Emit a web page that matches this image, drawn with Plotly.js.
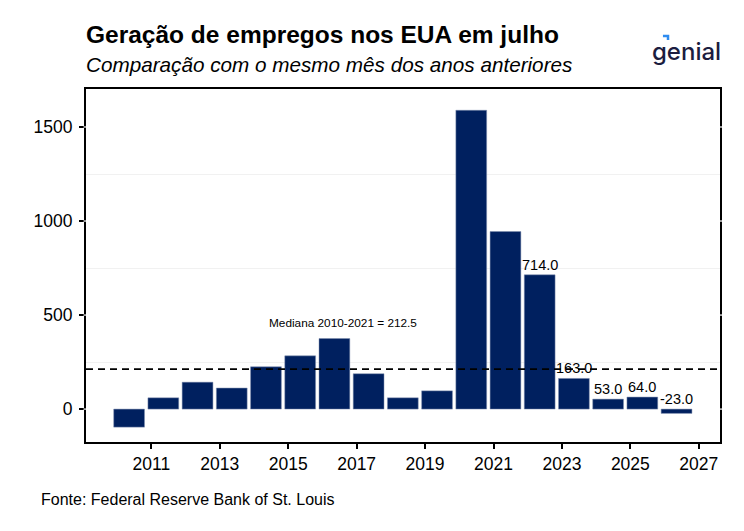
<!DOCTYPE html>
<html>
<head>
<meta charset="utf-8">
<script src="https://cdn.plot.ly/plotly-3.0.1.min.js"></script>
<style>
  body { margin: 0; background: #fff; }
  #chart { width: 744px; height: 531px; }
</style>
</head>
<body>
<div id="chart"></div>
<script>
// julho de cada ano, variação em milhares
var years = [2010, 2011, 2012, 2013, 2014, 2015, 2016, 2017, 2018, 2019, 2020, 2021, 2022, 2023, 2024, 2025, 2026];
var jobs = [-96, 60, 143, 112, 225, 283, 375, 188, 60, 97, 1589, 944, 714, 163, 53, 64, -23];
var labelYears = [2022, 2023, 2024, 2025, 2026];
var tickYears = [2011, 2013, 2015, 2017, 2019, 2021, 2023, 2025, 2027];
var yTicks = [0, 500, 1000, 1500];
var median = 212.5;

var navy = "#00205f";
var font = "Liberation Sans, Arial, sans-serif";

window.onload = function() {
  drawChart();
};

function drawChart() {
  var bars = {
    type: "bar",
    x: years,
    y: jobs,
    width: 0.9,
    marker: { color: navy, line: { color: "#8090b0", width: 0.5 } },
    hoverinfo: "x+y"
  };

  var notes = [];
  // valores em cima das barras recentes
  labelYears.forEach(function(yr) {
    var v = jobs[years.indexOf(yr)];
    notes.push({
      x: yr, y: Math.max(v, 0), xref: "x", yref: "y",
      text: v.toFixed(1), showarrow: false, yanchor: "bottom",
      font: { family: font, size: 14.5, color: "#000" }
    });
  });

  notes.push({
    x: 2016.25, y: 460, xref: "x", yref: "y",
    text: "Mediana 2010-2021 = " + median, showarrow: false,
    font: { family: font, size: 11.8, color: "#000" }
  });

  // titulos, fonte e logo
  notes.push({
    x: -0.003, y: 1.1558, xref: "paper", yref: "paper", xanchor: "left", yanchor: "middle",
    text: "<b>Geração de empregos nos EUA em julho</b>", showarrow: false,
    font: { family: font, size: 24.5, color: "#000" }
  });
  notes.push({
    x: -0.003, y: 1.0694, xref: "paper", yref: "paper", xanchor: "left", yanchor: "middle",
    text: "<i>Comparação com o mesmo mês dos anos anteriores</i>", showarrow: false,
    font: { family: font, size: 20.7, color: "#000" }
  });
  notes.push({
    x: -0.0735, y: -0.162, xref: "paper", yref: "paper", xanchor: "left", yanchor: "middle",
    text: "Fonte: Federal Reserve Bank of St. Louis", showarrow: false,
    font: { family: font, size: 16, color: "#000" }
  });
  notes.push({
    x: 1.004, y: 1.1076, xref: "paper", yref: "paper", xanchor: "right", yanchor: "middle",
    text: "genial", showarrow: false,
    font: { family: "Inter, Lato, sans-serif", size: 24, color: "#1b1d3f", weight: 500 }
  });

  var shapes = [
    {
      type: "line", xref: "paper", x0: 0, x1: 1, yref: "y", y0: median, y1: median,
      line: { color: "#000", width: 1.8, dash: "7px,5px" }
    },
    // detalhe azul do logo
    {
      type: "path", xref: "paper", yref: "paper",
      path: "M 0.910 1.150 L 0.918 1.150 L 0.918 1.139",
      line: { color: "#2f8cf0", width: 2.5 }
    }
  ];
  // grade branca cortando a moldura
  yTicks.forEach(function(v) {
    [[-0.004, 0.001], [0.999, 1.004]].forEach(function(p) {
      shapes.push({
        type: "line", xref: "paper", x0: p[0], x1: p[1], yref: "y", y0: v, y1: v,
        layer: "above", line: { color: "#fff", width: 1.2 }
      });
    });
  });

  var layout = {
    width: 744,
    height: 531,
    margin: { l: 86, r: 24, t: 89, b: 89 },
    paper_bgcolor: "#fff",
    plot_bgcolor: "#fff",
    showlegend: false,
    font: { family: font, color: "#000" },
    bargap: 0,
    xaxis: {
      range: [2008.74, 2027.27],
      tickvals: tickYears.map(function(y) { return y - 0.35; }),
      ticktext: tickYears.map(String),
      ticks: "outside", ticklen: 5, tickwidth: 2, tickcolor: "#000",
      tickfont: { family: font, size: 17.5, color: "#000" },
      showgrid: false, zeroline: false,
      showline: true, linecolor: "#000", linewidth: 2, mirror: true
    },
    yaxis: {
      range: [-175, 1702],
      tickvals: yTicks,
      ticks: "outside", ticklen: 5, tickwidth: 2, tickcolor: "#000",
      ticklabelstandoff: 3,
      tickfont: { family: font, size: 17.5, color: "#000" },
      showgrid: false, zeroline: false,
      showline: true, linecolor: "#000", linewidth: 2, mirror: true,
      minor: { tickvals: [250, 750, 1250], showgrid: true, gridcolor: "#f1f1f1", gridwidth: 1, ticks: "" }
    },
    shapes: shapes,
    annotations: notes
  };

  Plotly.newPlot("chart", [bars], layout, { displayModeBar: false, staticPlot: true });
}
</script>
</body>
</html>
